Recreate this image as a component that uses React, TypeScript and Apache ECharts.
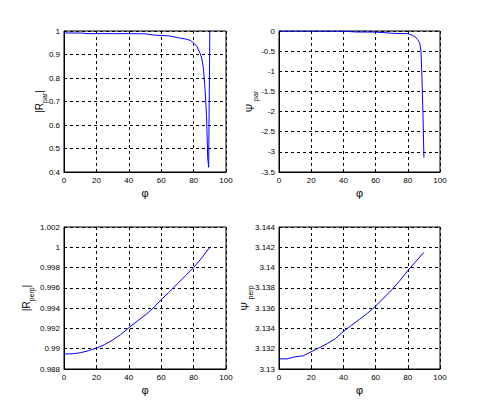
import React, { useEffect, useRef } from "react";
import * as echarts from "echarts";

// Data
const phiRPar = [0, 10, 15, 20, 30, 40, 50, 55, 60, 65, 70, 75, 78, 80, 82, 84, 85, 86, 87, 88, 88.7, 89.3, 90];
const rPar = [0.9915, 0.9913, 0.9888, 0.9887, 0.9887, 0.9887, 0.9880, 0.983, 0.981, 0.979, 0.972, 0.966, 0.960, 0.949, 0.935, 0.905, 0.885, 0.845, 0.76, 0.64, 0.46, 0.42, 1.0];

const phiPsiPar = [0, 20, 40, 48, 60, 71, 80, 83, 85, 86, 87, 87.5, 88.2, 88.8, 89.5, 90];
const psiPar = [-0.002, -0.003, -0.004, -0.025, -0.026, -0.058, -0.066, -0.11, -0.16, -0.21, -0.27, -0.32, -0.5, -1.15, -2.2, -3.14];

const phi = [0, 5, 10, 15, 20, 25, 30, 35, 40, 45, 50, 55, 60, 65, 70, 75, 80, 85, 90];
const rPerp = [0.98948, 0.9895, 0.9896, 0.9898, 0.99006, 0.9904, 0.99085, 0.9914, 0.99206, 0.9927, 0.9933, 0.9940, 0.99483, 0.9956, 0.9964, 0.9972, 0.9980, 0.99895, 1.0];
const psiPerp = [3.131, 3.131, 3.1312, 3.1313, 3.1317, 3.1321, 3.1325, 3.133, 3.1337, 3.1343, 3.1349, 3.1355, 3.1362, 3.137, 3.1378, 3.1387, 3.1397, 3.1406, 3.1415];

const xTicks = { min: 0, max: 100, interval: 20 };
const yRanges = [
  { min: 0.4, max: 1, interval: 0.1 },
  { min: -3.5, max: 0, interval: 0.5 },
  { min: 0.988, max: 1.002, interval: 0.002 },
  { min: 3.13, max: 3.144, interval: 0.002 },
];
const yNames = [
  ["|R", "par", "|"],
  ["Ψ ", "par", ""],
  ["|R", "perp", "|"],
  ["Ψ ", "perp", ""],
];
const xName = "φ";

const FONT = "Liberation Sans, Arial, sans-serif";

export default function App() {
  const ref = useRef<HTMLDivElement>(null);
  useEffect(() => {
    if (!ref.current) return;
    const chart = echarts.init(ref.current, undefined, { renderer: "svg" });
    const grids = [
      { left: 64, top: 31, width: 162, height: 141 },
      { left: 279, top: 31, width: 161, height: 141 },
      { left: 64, top: 227, width: 162, height: 142 },
      { left: 279, top: 227, width: 161, height: 142 },
    ];
    const nameGaps = [16, 20, 29, 25];
    const fmt = (v: number) => String(parseFloat(v.toFixed(4)));
    const seriesData = [
      phiRPar.map((p, i) => [p, rPar[i]]),
      phiPsiPar.map((p, i) => [p, psiPar[i]]),
      phi.map((p, i) => [p, rPerp[i]]),
      phi.map((p, i) => [p, psiPerp[i]]),
    ];
    const option: any = {
      animation: false,
      backgroundColor: "#ffffff",
      grid: grids.map((g) => ({ ...g, show: true, borderColor: "#000", borderWidth: 1, backgroundColor: "#fff" })),
      xAxis: grids.map((_, i) => ({
        type: "value",
        gridIndex: i,
        ...xTicks,
        name: xName,
        nameLocation: "middle",
        nameGap: 15,
        nameMoveOverlap: false,
        nameTextStyle: { fontFamily: FONT, fontSize: 11, color: "#000000" },
        axisLine: { show: true, onZero: false, lineStyle: { color: "#000", width: 1 } },
        axisTick: { show: true, inside: true, length: 3, lineStyle: { color: "#000" } },
        axisLabel: { fontFamily: FONT, fontSize: 8, color: "#000", margin: 4, formatter: fmt },
        splitLine: { show: true, lineStyle: { color: "#000", type: [3, 3], width: 1 } },
      })),
      yAxis: grids.map((_, i) => ({
        type: "value",
        gridIndex: i,
        ...yRanges[i],
        name: `{m|${yNames[i][0]}}{s|${yNames[i][1]}}{m|${yNames[i][2]}}`,
        nameLocation: "middle",
        nameRotate: 90,
        nameGap: nameGaps[i],
        nameMoveOverlap: false,
        nameTextStyle: {
          fontFamily: FONT,
          color: "#000",
          rich: {
            m: { fontFamily: FONT, fontSize: 10, color: "#000", lineHeight: 14, verticalAlign: "top" },
            s: { fontFamily: FONT, fontSize: 7, color: "#000", lineHeight: 14, verticalAlign: "bottom" },
          },
        },
        axisLine: { show: true, onZero: false, lineStyle: { color: "#000", width: 1 } },
        axisTick: { show: true, inside: true, length: 3, lineStyle: { color: "#000" } },
        axisLabel: { fontFamily: FONT, fontSize: 8, color: "#000", margin: 4, formatter: fmt },
        splitLine: { show: true, lineStyle: { color: "#000", type: [3, 3], width: 1 } },
      })),
      series: seriesData.map((d, i) => ({
        type: "line",
        xAxisIndex: i,
        yAxisIndex: i,
        data: d,
        showSymbol: false,
        symbol: "none",
        lineStyle: { color: "#0000ff", width: 1 },
      })),
    };
    chart.setOption(option);
    return () => chart.dispose();
  }, []);
  return <div ref={ref} style={{ width: 487, height: 415, position: "absolute", left: 0, top: 0 }} />;
}
